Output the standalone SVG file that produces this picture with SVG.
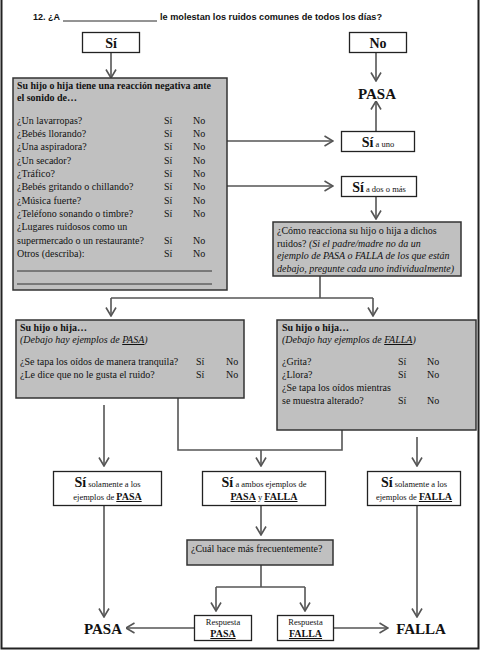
<svg xmlns="http://www.w3.org/2000/svg" width="480" height="650" viewBox="0 0 480 650">
  <defs>
    <marker id="arr" viewBox="0 0 10 12" refX="9.5" refY="6" markerWidth="10" markerHeight="12" markerUnits="userSpaceOnUse" orient="auto">
      <path d="M1,1 L9.5,6 L1,11" fill="none" stroke="#555" stroke-width="1.6"/>
    </marker>
    <style>
      .bx { fill: #fff; stroke: #222; stroke-width: 1.3; }
      .gb { fill: #c0c0c0; stroke: #333; stroke-width: 1.5; }
      .t { font-family: "Liberation Serif", "Times New Roman", serif; font-size: 10px; fill: #111; }
      .b { font-weight: bold; }
      .i { font-style: italic; }
      .u { text-decoration: underline; }
      .big { font-size: 14px; font-weight: bold; }
      .end { font-size: 15px; font-weight: bold; }
      .sm { font-size: 8.5px; }
      .c { text-anchor: middle; }
      .ln { fill: none; stroke: #555; stroke-width: 1.6; }
      .ar { marker-end: url(#arr); }
    </style>
  </defs>

  <rect width="480" height="650" fill="#fff"/>
  <!-- page frame -->
  <path d="M1.5,0 V648.5 H478.5 V0" fill="none" stroke="#222" stroke-width="2"/>

  <!-- question -->
  <g id="q12">
    <text x="33" y="20" font-family="Liberation Sans, Arial, sans-serif" font-size="9px" font-weight="bold" fill="#111">12. ¿A</text>
    <line x1="63" y1="21" x2="157" y2="21" stroke="#111" stroke-width="0.9"/>
    <text x="160" y="20" font-family="Liberation Sans, Arial, sans-serif" font-size="9px" font-weight="bold" fill="#111" textLength="222" lengthAdjust="spacingAndGlyphs">le molestan los ruidos comunes de todos los días?</text>
  </g>

  <!-- connectors -->
  <g id="connectors">
    <path class="ln ar" d="M111,53 V78"/>
    <path class="ln ar" d="M376,53 V81"/>
    <path class="ln ar" d="M376,131 V101"/>
    <path class="ln ar" d="M227,141 H333"/>
    <path class="ln ar" d="M227,186 H333"/>
    <path class="ln ar" d="M376,197 V219"/>
    <path class="ln" d="M320,276 V298 M111,298 H373"/>
    <path class="ln ar" d="M111,298 V316"/>
    <path class="ln ar" d="M373,298 V316"/>
    <path class="ln ar" d="M104,405 V466"/>
    <path class="ln" d="M178,398 V450 H342 V430"/>
    <path class="ln ar" d="M261,450 V466"/>
    <path class="ln ar" d="M417,437 V466"/>
    <path class="ln ar" d="M261,506 V535"/>
    <path class="ln" d="M261,565 V587 M216,587 H305"/>
    <path class="ln ar" d="M216,587 V611"/>
    <path class="ln ar" d="M305,587 V611"/>
    <path class="ln ar" d="M104,506 V617"/>
    <path class="ln ar" d="M417,506 V617"/>
    <path class="ln ar" d="M194,628 H126"/>
    <path class="ln ar" d="M333,628 H388"/>
  </g>

  <g id="si-top">
    <rect class="bx" x="82.5" y="32.5" width="57" height="20"/>
    <text class="t big c" x="111" y="47.5">Sí</text>
  </g>
  <g id="no-top">
    <rect class="bx" x="349.5" y="32.5" width="57" height="20"/>
    <text class="t big c" x="378" y="47.5">No</text>
  </g>
  <g id="pasa-top">
    <text class="t end c" x="377" y="99">PASA</text>
  </g>

  <g id="reaccion">
    <rect class="gb" x="13" y="78" width="214" height="212"/>
    <text class="t b" x="17" y="89" textLength="194" lengthAdjust="spacingAndGlyphs">Su hijo o hija tiene una reacción negativa ante</text>
    <text class="t b" x="17" y="101">el sonido de…</text>
    <g class="t">
      <text x="17" y="123.5">¿Un lavarropas?</text>
      <text x="17" y="137">¿Bebés llorando?</text>
      <text x="17" y="150">¿Una aspiradora?</text>
      <text x="17" y="163.5">¿Un secador?</text>
      <text x="17" y="177">¿Tráfico?</text>
      <text x="17" y="190">¿Bebés gritando o chillando?</text>
      <text x="17" y="203.5">¿Música fuerte?</text>
      <text x="17" y="217">¿Teléfono sonando o timbre?</text>
      <text x="17" y="230">¿Lugares ruidosos como un</text>
      <text x="17" y="243.5">supermercado o un restaurante?</text>
      <text x="17" y="257">Otros (describa):</text>
    </g>
    <g class="t">
      <text x="164" y="123.5">Sí</text><text x="193" y="123.5">No</text>
      <text x="164" y="137">Sí</text><text x="193" y="137">No</text>
      <text x="164" y="150">Sí</text><text x="193" y="150">No</text>
      <text x="164" y="163.5">Sí</text><text x="193" y="163.5">No</text>
      <text x="164" y="177">Sí</text><text x="193" y="177">No</text>
      <text x="164" y="190">Sí</text><text x="193" y="190">No</text>
      <text x="164" y="203.5">Sí</text><text x="193" y="203.5">No</text>
      <text x="164" y="217">Sí</text><text x="193" y="217">No</text>
      <text x="164" y="243.5">Sí</text><text x="193" y="243.5">No</text>
      <text x="164" y="257">Sí</text><text x="193" y="257">No</text>
    </g>
    <path d="M17,271 H212 M17,284 H212" stroke="#222" stroke-width="0.9"/>
  </g>

  <g id="si-uno">
    <rect class="bx" x="341.5" y="131.5" width="73" height="20"/>
    <text class="t c" x="378" y="146.5"><tspan class="big">Sí</tspan><tspan class="sm"> a uno</tspan></text>
  </g>
  <g id="si-dos">
    <rect class="bx" x="341.5" y="176.5" width="75" height="20"/>
    <text class="t c" x="379" y="191.5"><tspan class="big">Sí</tspan><tspan class="sm"> a dos o más</tspan></text>
  </g>

  <g id="como-reacciona">
    <rect class="gb" x="273" y="222" width="188" height="54"/>
    <text class="t" x="277" y="234">¿Cómo reacciona su hijo o hija a dichos</text>
    <text class="t" x="277" y="246.5">ruidos? <tspan class="i">(Si el padre/madre no da un</tspan></text>
    <text class="t i" x="277" y="259">ejemplo de PASA o FALLA de los que están</text>
    <text class="t i" x="277" y="271.5">debajo, pregunte cada uno individualmente)</text>
  </g>

  <g id="ejemplos-pasa">
    <rect class="gb" x="16" y="320" width="228" height="78"/>
    <text class="t b" x="20" y="331">Su hijo o hija…</text>
    <text class="t i" x="20" y="343">(Debajo hay ejemplos de <tspan class="u">PASA</tspan>)</text>
    <text class="t" x="20" y="365">¿Se tapa los oídos de manera tranquila?</text>
    <text class="t" x="196" y="365">Sí</text><text class="t" x="226" y="365">No</text>
    <text class="t" x="20" y="378">¿Le dice que no le gusta el ruido?</text>
    <text class="t" x="196" y="378">Sí</text><text class="t" x="226" y="378">No</text>
  </g>

  <g id="ejemplos-falla">
    <rect class="gb" x="277" y="320" width="199" height="110"/>
    <text class="t b" x="282" y="331">Su hijo o hija…</text>
    <text class="t i" x="282" y="343">(Debajo hay ejemplos de <tspan class="u">FALLA</tspan>)</text>
    <text class="t" x="282" y="365">¿Grita?</text>
    <text class="t" x="398" y="365">Sí</text><text class="t" x="427" y="365">No</text>
    <text class="t" x="282" y="378">¿Llora?</text>
    <text class="t" x="398" y="378">Sí</text><text class="t" x="427" y="378">No</text>
    <text class="t" x="282" y="391">¿Se tapa los oídos mientras</text>
    <text class="t" x="282" y="404">se muestra alterado?</text>
    <text class="t" x="398" y="404">Sí</text><text class="t" x="427" y="404">No</text>
  </g>

  <g id="solo-pasa">
    <rect class="bx" x="53.5" y="471.5" width="108" height="34"/>
    <text class="t c" x="107.5" y="487"><tspan class="big">Sí</tspan><tspan class="sm"> solamente a los</tspan></text>
    <text class="t c" x="107.5" y="500"><tspan class="sm">ejemplos de </tspan><tspan class="b u">PASA</tspan></text>
  </g>
  <g id="ambos">
    <rect class="bx" x="202.5" y="471.5" width="123" height="34"/>
    <text class="t c" x="264" y="487"><tspan class="big">Sí</tspan><tspan class="sm"> a ambos ejemplos de</tspan></text>
    <text class="t c" x="264" y="500"><tspan class="b u">PASA</tspan><tspan class="sm"> y </tspan><tspan class="b u">FALLA</tspan></text>
  </g>
  <g id="solo-falla">
    <rect class="bx" x="367.5" y="471.5" width="93" height="34"/>
    <text class="t c" x="414" y="487"><tspan class="big">Sí</tspan><tspan class="sm"> solamente a los</tspan></text>
    <text class="t c" x="414" y="500"><tspan class="sm">ejemplos de </tspan><tspan class="b u">FALLA</tspan></text>
  </g>

  <g id="cual">
    <rect class="gb" x="187" y="540" width="146" height="25"/>
    <text class="t" x="191" y="552">¿Cuál hace más frecuentemente?</text>
  </g>

  <g id="resp-pasa">
    <rect class="bx" x="194.5" y="615.5" width="57" height="25"/>
    <text class="t c sm" x="223" y="625">Respuesta</text>
    <text class="t c b u" x="223" y="637">PASA</text>
  </g>
  <g id="resp-falla">
    <rect class="bx" x="277.5" y="615.5" width="56" height="25"/>
    <text class="t c sm" x="305.5" y="625">Respuesta</text>
    <text class="t c b u" x="305.5" y="637">FALLA</text>
  </g>

  <g id="pasa-end">
    <text class="t end c" x="103" y="634">PASA</text>
  </g>
  <g id="falla-end">
    <text class="t end c" x="421" y="634">FALLA</text>
  </g>
</svg>
